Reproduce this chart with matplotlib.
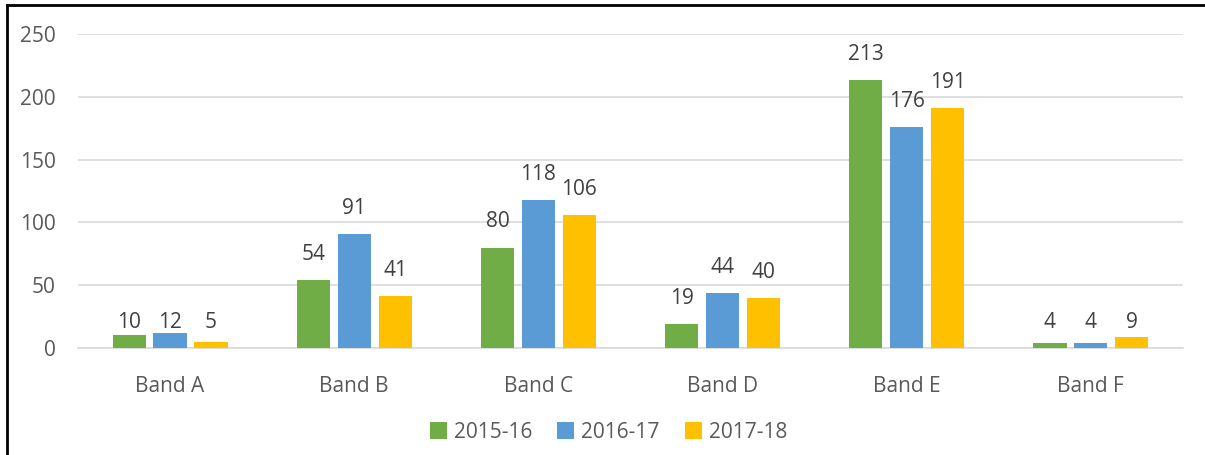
import matplotlib
matplotlib.use("Agg")
import matplotlib.pyplot as plt
from matplotlib.lines import Line2D
import numpy as np

categories = ["Band A", "Band B", "Band C", "Band D", "Band E", "Band F"]
years = ["2015-16", "2016-17", "2017-18"]
values_2015 = [10, 54, 80, 19, 213, 4]
values_2016 = [12, 91, 118, 44, 176, 4]
values_2017 = [5, 41, 106, 40, 191, 9]
yticks = [0, 50, 100, 150, 200, 250]

colors = ["#70AD47", "#5B9BD5", "#FFC000"]
text_color = "#595959"
fs = 15
label_gap = 16  # data units between bar top and label baseline

plt.rcParams["font.family"] = ["Open Sans", "DejaVu Sans"]

fig = plt.figure(figsize=(12.05, 4.55), dpi=100)
ax = fig.add_axes([0.0647, 0.2352, 0.917, 0.6901])

x = np.arange(len(categories))
width = 0.18
step = 0.222
series = [values_2015, values_2016, values_2017]
for i, (vals, year, col) in enumerate(zip(series, years, colors)):
    pos = x + (i - 1) * step
    ax.bar(pos, vals, width=width, color=col, label=year, zorder=3)
    for px, v in zip(pos, vals):
        # short bars keep their labels on a common line just above the axis
        ty = v + label_gap if v > label_gap else label_gap
        ax.text(px, ty, str(v), ha="center", va="baseline",
                fontsize=fs, color="#404040")

ax.set_xlim(-0.5, len(categories) - 0.5)
ax.set_ylim(0, 250)
ax.set_yticks(yticks)
ax.set_xticks(x)
ax.set_xticklabels(categories)
ax.grid(axis="y", color="#D9D9D9", linewidth=1.2, zorder=0)
for side in ["top", "right", "left"]:
    ax.spines[side].set_visible(False)
ax.spines["bottom"].set_color("#D9D9D9")
ax.spines["bottom"].set_linewidth(1.2)
ax.tick_params(axis="both", length=0, labelsize=fs, colors=text_color)
ax.tick_params(axis="x", pad=20.5)
ax.tick_params(axis="y", pad=16)

fig.legend(loc="center", bbox_to_anchor=(0.505, 0.05), ncol=3, frameon=False,
           fontsize=fs, labelcolor=text_color, handlelength=0.82, handleheight=0.82,
           columnspacing=1.2, handletextpad=0.34)

# outer frame, only left and top edges visible
fig.add_artist(Line2D([7 / 1205, 7 / 1205], [0, 1 - 5 / 455], color="black", linewidth=2,
                      transform=fig.transFigure))
fig.add_artist(Line2D([7 / 1205, 1], [1 - 5 / 455, 1 - 5 / 455], color="black", linewidth=2,
                      transform=fig.transFigure))

fig.savefig("out.png", dpi=100)
